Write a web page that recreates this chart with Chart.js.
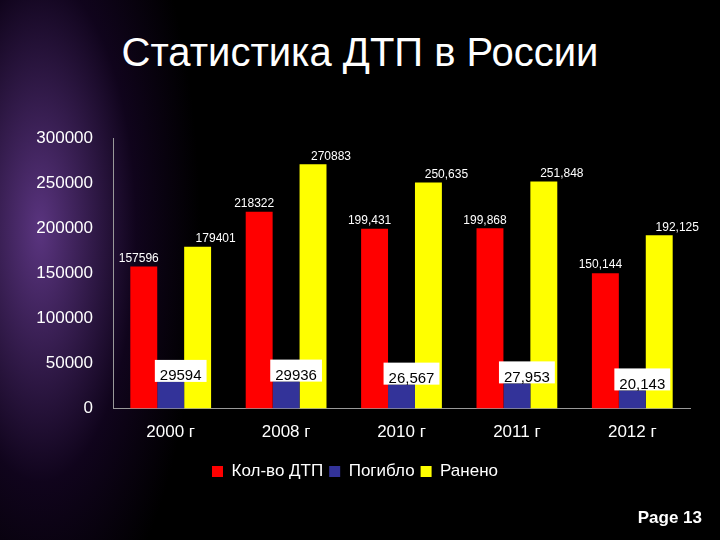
<!DOCTYPE html>
<html><head><meta charset="utf-8">
<script src="https://cdn.jsdelivr.net/npm/chart.js@4/dist/chart.umd.min.js"></script>
<style>
body{margin:0;width:720px;height:540px;overflow:hidden;font-family:"Liberation Sans",Arial,sans-serif;
background:radial-gradient(ellipse 160px 420px at 40px 230px,rgba(120,70,170,0.75),rgba(40,10,70,0.4) 60%,rgba(0,0,0,0) 100%),#000;}
#title{position:absolute;top:30px;left:0;width:720px;text-align:center;color:#fff;font-size:40px;}
#page{position:absolute;right:18px;bottom:12px;color:#fff;font-weight:bold;font-size:17px;}
canvas{position:absolute;left:0;top:0;}
</style></head><body>
<div id="title">Статистика ДТП в России</div>
<canvas id="c" width="720" height="540"></canvas>
<div id="page">Page 13</div>
<script>
var years = ['2000 г', '2008 г', '2010 г', '2011 г', '2012 г'];
var crashes = [157596, 218322, 199431, 199868, 150144];
var killed = [29594, 29936, 26567, 27953, 20143];
var injured = [179401, 270883, 250635, 251848, 192125];
var crashLabels = ['157596', '218322', '199,431', '199,868', '150,144'];
var killedLabels = ['29594', '29936', '26,567', '27,953', '20,143'];
var injuredLabels = ['179401', '270883', '250,635', '251,848', '192,125'];

var labelPlugin = {
    id: 'vals',
    afterDatasetsDraw: function(chart){
        var ctx = chart.ctx;
        ctx.save();
        ctx.textAlign = 'center';
        var m0 = chart.getDatasetMeta(0).data, m1 = chart.getDatasetMeta(1).data, m2 = chart.getDatasetMeta(2).data;
        for (var k = 0; k < years.length; k++) {
            ctx.font = '12px "Liberation Sans", Arial';
            ctx.fillStyle = '#fff';
            ctx.fillText(crashLabels[k], m0[k].x - 5, m0[k].y - 8);
            ctx.fillText(injuredLabels[k], m2[k].x + 18, m2[k].y - 8);
            ctx.font = '15px "Liberation Sans", Arial';
            var w = ctx.measureText(killedLabels[k]).width + 10;
            var bx = m1[k].x + 10 - w / 2, by = m1[k].y - 22;
            ctx.fillStyle = '#fff';
            ctx.fillRect(bx, by, w, 22);
            ctx.fillStyle = '#000';
            ctx.fillText(killedLabels[k], m1[k].x + 10, by + 16);
        }
        ctx.restore();
    }
};

new Chart(document.getElementById('c').getContext('2d'), {
    type: 'bar',
    data: {
        labels: years,
        datasets: [
            {label: 'Кол-во ДТП', data: crashes, backgroundColor: '#ff0000'},
            {label: 'Погибло', data: killed, backgroundColor: '#333399'},
            {label: 'Ранено', data: injured, backgroundColor: '#ffff00'}
        ]
    },
    options: {
        responsive: false,
        animation: false,
        layout: {padding: {left: 20, right: 30, top: 138, bottom: 50}},
        datasets: {bar: {categoryPercentage: 0.7, barPercentage: 1}},
        plugins: {
            title: {display: false},
            tooltip: {enabled: false},
            legend: {
                position: 'bottom',
                labels: {color: '#fff', font: {size: 17, family: '"Liberation Sans", Arial'}, boxWidth: 11, boxHeight: 11, padding: 6}
            }
        },
        scales: {
            x: {
                grid: {display: false, drawTicks: false},
                border: {color: '#999'},
                ticks: {color: '#fff', font: {size: 17, family: '"Liberation Sans", Arial'}, padding: 14}
            },
            y: {
                min: 0, max: 300000,
                afterFit: function(s){ s.width = 93; },
                grid: {display: false},
                border: {color: '#999'},
                ticks: {stepSize: 50000, color: '#fff', font: {size: 17, family: '"Liberation Sans", Arial'}, padding: 12,
                    callback: function(v){ return String(v); }}
            }
        }
    },
    plugins: [labelPlugin]
});
</script>
</body></html>
